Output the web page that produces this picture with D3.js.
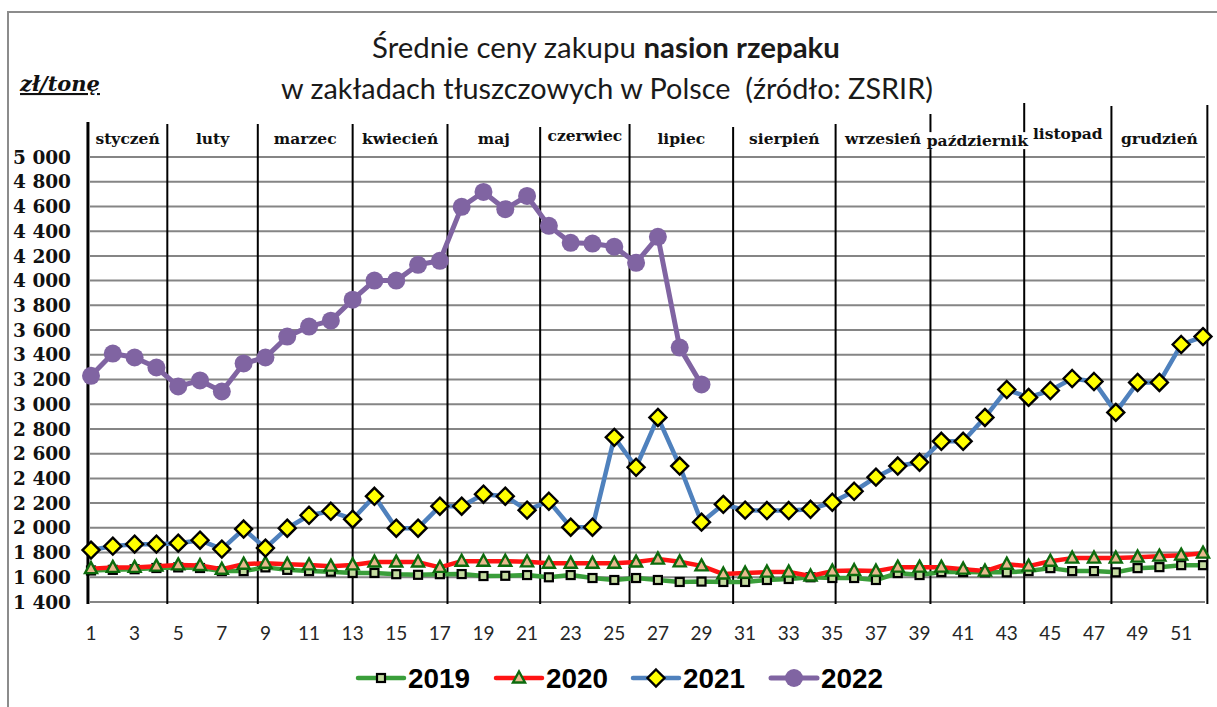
<!DOCTYPE html>
<html><head><meta charset="utf-8">
<script src="https://cdn.jsdelivr.net/npm/d3@7"></script>
<style>html,body{margin:0;padding:0;background:#fff;}svg{display:block;}</style>
</head><body>
<svg id="c" width="1217" height="707"></svg>
<script>
// ---------- DATA ----------
const weeks = d3.range(1, 53);
const xTickWeeks = d3.range(1, 52, 2);
const yTicks = d3.range(1400, 5001, 200);
const months = ["styczeń","luty","marzec","kwiecień","maj","czerwiec","lipiec","sierpień","wrzesień","październik","listopad","grudzień"];
// month boundaries expressed in week units
const monthBounds = [0.86, 4.5, 8.65, 13.0, 17.35, 21.6, 25.7, 30.45, 35.15, 39.5, 43.8, 47.8, 52.2];
const seriesNames = ["2019","2020","2021","2022"];
const v2019 = [1655,1660,1665,1675,1680,1675,1650,1650,1680,1660,1650,1645,1635,1635,1625,1620,1625,1626,
  1610,1612,1618,1600,1618,1594,1578,1594,1578,1562,1565,1562,1562,1578,1586,1600,
  1594,1594,1578,1634,1618,1642,1642,1640,1640,1650,1674,1650,1650,1640,1674,1682,1698,1698];
const v2020 = [1670,1680,1680,1690,1700,1695,1665,1706,1714,1706,1700,1690,1700,1723,1723,1723,1680,1730,
  1730,1730,1725,1714,1714,1714,1714,1723,1747,1725,1692,1626,1634,1642,1642,1610,1650,1655,
  1650,1682,1682,1682,1666,1650,1706,1690,1730,1755,1755,1755,1763,1771,1779,1795];
const v2021 = [1820,1852,1868,1868,1876,1900,1828,1990,1836,1997,2102,2134,2070,2255,1997,1997,2175,2175,
  2272,2256,2143,2215,2005,2005,2732,2490,2893,2500,2046,2190,2143,2140,2140,2150,2207,2296,
  2410,2500,2530,2700,2700,2893,3119,3055,3111,3208,3184,2934,3176,3176,3483,3547];
const v2022 = [3230,3410,3378,3297,3144,3192,3103,3330,3378,3547,3628,3676,3846,4000,4000,4128,4160,4597,
  4717,4578,4685,4443,4306,4300,4274,4144,4354,3458,3160];
const titleLine1a = "Średnie ceny zakupu ";
const titleLine1b = "nasion rzepaku";
const titleLine2 = "w zakładach tłuszczowych w Polsce  (źródło: ZSRIR)";
const unitLabel = "zł/tonę";

// ---------- LAYOUT / STYLE ----------
const svg = d3.select("#c");
const x = d3.scaleLinear().domain([1, 52]).range([91, 1203]);
const y = d3.scaleLinear().domain([1400, 5000]).range([602, 157]);
const gridX0 = 90, gridX1 = 1205;
const monthLineTop = [122,124,124,124,124,127,124,127,124,114,103,106,105];
const monthLabelDy = [0,0,0,0,0,-3,0,0,0,2,-5,0];
const serif = "'DejaVu Serif', 'Liberation Serif', serif";
const sans = "Lato, 'Open Sans', 'Liberation Sans', sans-serif";

const styles = {
  "2019": {color:"#3a9e3a", width:4.5, marker:"square"},
  "2020": {color:"#ff1414", width:4.5, marker:"triangle"},
  "2021": {color:"#4f81bd", width:4.5, marker:"diamond"},
  "2022": {color:"#8064a2", width:5, marker:"circle"}
};
const seriesData = {"2019": v2019, "2020": v2020, "2021": v2021, "2022": v2022};

function fitWidth(sel, target){
  const n = sel.node();
  let fs = parseFloat(sel.attr("font-size"));
  const w = n.getComputedTextLength();
  if (w > 0) sel.attr("font-size", (fs * target / w).toFixed(2));
}

// frame
svg.append("rect").attr("x", 8).attr("y", 12).attr("width", 1230).attr("height", 720)
  .attr("fill", "none").attr("stroke", "#8c8c8c").attr("stroke-width", 2);

// title
const t1 = svg.append("text").attr("x", 606).attr("y", 58).attr("text-anchor", "middle")
  .attr("font-family", sans).attr("font-size", 24).attr("fill", "#1a1a1a");
t1.append("tspan").text(titleLine1a);
t1.append("tspan").attr("font-weight", "bold").text(titleLine1b);
fitWidth(t1, 468);
const t2 = svg.append("text").attr("x", 607).attr("y", 99).attr("text-anchor", "middle")
  .attr("font-family", sans).attr("font-size", 24).attr("fill", "#1a1a1a")
  .style("white-space", "pre").text(titleLine2);
fitWidth(t2, 652);

// unit label
const ul = svg.append("text").attr("x", 20).attr("y", 91)
  .attr("font-family", serif).attr("font-size", 18).attr("font-weight", "bold")
  .attr("font-style", "italic").attr("text-decoration", "underline").attr("fill", "#111")
  .text(unitLabel);
fitWidth(ul, 80);

// horizontal gridlines
svg.append("g").selectAll("line").data(yTicks).join("line")
  .attr("x1", gridX0).attr("x2", gridX1)
  .attr("y1", d => y(d)).attr("y2", d => y(d))
  .attr("stroke", "#858585").attr("stroke-width", 2);

// y tick labels
const yl = svg.append("g").selectAll("text").data(yTicks).join("text")
  .attr("x", 71).attr("y", d => y(d)).attr("dy", "0.36em").attr("text-anchor", "end")
  .attr("font-family", serif).attr("font-weight", "bold").attr("font-size", 18.5).attr("fill", "#111")
  .text(d => d3.format(",")(d).replace(",", " "));

// x tick labels
svg.append("g").selectAll("text").data(xTickWeeks).join("text")
  .attr("x", d => x(d)).attr("y", 633).attr("dy", "0.36em").attr("text-anchor", "middle")
  .attr("font-family", sans).attr("font-size", 19).attr("fill", "#262626")
  .text(d => d);

// month vertical lines
svg.append("g").selectAll("line").data(monthBounds).join("line")
  .attr("x1", d => x(d)).attr("x2", d => x(d))
  .attr("y1", (d, i) => monthLineTop[i]).attr("y2", 604)
  .attr("stroke", "#000").attr("stroke-width", (d, i) => i === 0 ? 3 : 2);

// month labels with white backgrounds
const mg = svg.append("g");
months.forEach((m, i) => {
  const cx = x((monthBounds[i] + monthBounds[i + 1]) / 2);
  const cy = 139 + monthLabelDy[i];
  const t = mg.append("text").attr("x", cx).attr("y", cy).attr("dy", "0.33em")
    .attr("text-anchor", "middle").attr("font-family", serif).attr("font-weight", "bold")
    .attr("font-size", 15.5).attr("fill", "#111").text(m);
  const bb = t.node().getBBox();
  mg.insert("rect", () => t.node()).attr("x", bb.x - 1).attr("y", bb.y + 1)
    .attr("width", bb.width + 2).attr("height", bb.height - 2).attr("fill", "#fff");
});

// markers
function drawMarker(g, kind, cx, cy) {
  if (kind === "square") {
    g.append("rect").attr("x", cx - 4).attr("y", cy - 4).attr("width", 8).attr("height", 8)
      .attr("fill", "#c4dba0").attr("stroke", "#000").attr("stroke-width", 2.2);
  } else if (kind === "triangle") {
    g.append("path").attr("d", `M${cx},${cy - 6.5}L${cx + 6},${cy + 4.5}L${cx - 6},${cy + 4.5}Z`)
      .attr("fill", "#e9b98e").attr("stroke", "#0d6b0d").attr("stroke-width", 2.4);
  } else if (kind === "diamond") {
    g.append("path").attr("d", `M${cx},${cy - 8.5}L${cx + 8.5},${cy}L${cx},${cy + 8.5}L${cx - 8.5},${cy}Z`)
      .attr("fill", "#ffff00").attr("stroke", "#000").attr("stroke-width", 2.4);
  } else {
    g.append("circle").attr("cx", cx).attr("cy", cy).attr("r", 9).attr("fill", "#8064a2");
  }
}

const line = d3.line().x((d, i) => x(i + 1)).y(d => y(d));
seriesNames.forEach(name => {
  const st = styles[name], vals = seriesData[name];
  const g = svg.append("g");
  g.append("path").datum(vals).attr("d", line).attr("fill", "none")
    .attr("stroke", st.color).attr("stroke-width", st.width).attr("stroke-linejoin", "round");
  vals.forEach((v, i) => drawMarker(g, st.marker, x(i + 1), y(v)));
});

// legend
const legX = [358, 496, 633, 771];
const legY = 678;
seriesNames.forEach((name, i) => {
  const st = styles[name];
  const g = svg.append("g");
  g.append("line").attr("x1", legX[i]).attr("x2", legX[i] + 46).attr("y1", legY).attr("y2", legY)
    .attr("stroke", st.color).attr("stroke-width", st.width).attr("stroke-linecap", "round");
  drawMarker(g, st.marker, legX[i] + 23, legY);
  const t = g.append("text").attr("x", legX[i] + 50).attr("y", legY).attr("dy", "0.36em")
    .attr("font-family", "'Liberation Sans', Arial, sans-serif").attr("font-weight", "bold")
    .attr("font-size", 28).attr("fill", "#000").text(name);
  fitWidth(t, 62);
});
</script>
</body></html>
